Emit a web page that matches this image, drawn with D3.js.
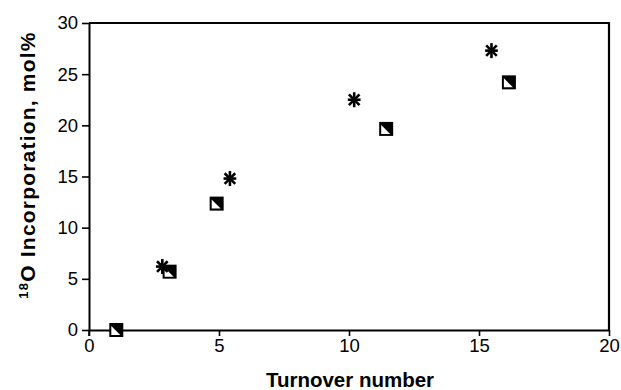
<!DOCTYPE html>
<html>
<head>
<meta charset="utf-8">
<script src="https://cdn.jsdelivr.net/npm/d3@7"></script>
<style>
  html, body { margin: 0; padding: 0; background: #fff; }
  svg { display: block; }
  text { font-family: "Liberation Sans", Arial, Helvetica, sans-serif; fill: #000; }
</style>
</head>
<body>
<svg id="chart" width="621" height="390"></svg>
<script>
// Series 1 (asterisks): turnover number vs 18O incorporation
const starX = [2.82, 5.42, 10.2, 15.48];
const starY = [6.2, 14.8, 22.5, 27.3];
// Series 2 (half-filled squares)
const squareX = [1.05, 3.1, 4.91, 11.43, 16.15];
const squareY = [0.0, 5.7, 12.35, 19.65, 24.2];

const xTicks = [0, 5, 10, 15, 20];
const yTicks = [0, 5, 10, 15, 20, 25, 30];

const svg = d3.select("#chart");
const plotLeft = 89, plotRight = 609, plotTop = 23, plotBottom = 330;

const x = d3.scaleLinear().domain([0, 20]).range([plotLeft, plotRight]);
const y = d3.scaleLinear().domain([0, 30]).range([plotBottom, plotTop]);

// Axes
const xAxis = d3.axisBottom(x).tickValues(xTicks).tickSize(6).tickPadding(3).tickSizeOuter(0);
const yAxis = d3.axisLeft(y).tickValues(yTicks).tickSize(7).tickPadding(4).tickSizeOuter(0);

const gx = svg.append("g").attr("transform", `translate(0,${plotBottom})`).call(xAxis);
const gy = svg.append("g").attr("transform", `translate(${plotLeft},0)`).call(yAxis);

[gx, gy].forEach(g => {
  g.select(".domain").attr("stroke", "#000").attr("stroke-width", 2);
  g.selectAll(".tick line").attr("stroke", "#000").attr("stroke-width", 1.6);
  g.selectAll(".tick text")
    .attr("font-family", "'Liberation Sans', Arial, sans-serif")
    .attr("font-size", 18.5)
    .attr("fill", "#000");
});
// short stub of the left axis below the origin
gy.append("line").attr("x1", 0).attr("x2", 0).attr("y1", y(0)).attr("y2", y(0) + 6)
  .attr("stroke", "#000").attr("stroke-width", 1.6);

// Top and right frame
svg.append("line").attr("x1", x(0)).attr("x2", x(20)).attr("y1", y(30)).attr("y2", y(30))
  .attr("stroke", "#000").attr("stroke-width", 2.2);
svg.append("line").attr("x1", x(20)).attr("x2", x(20)).attr("y1", y(30) - 1).attr("y2", y(0))
  .attr("stroke", "#000").attr("stroke-width", 2.2);

// Axis titles
svg.append("text")
  .attr("x", 350).attr("y", 387)
  .attr("text-anchor", "middle")
  .attr("font-weight", "bold").attr("font-size", 20.5)
  .text("Turnover number");

const yt = svg.append("text")
  .attr("transform", "translate(35,165) rotate(-90)")
  .attr("text-anchor", "middle")
  .attr("font-weight", "bold").attr("font-size", 21)
  .attr("letter-spacing", 1.2);
yt.append("tspan").attr("font-size", 13).attr("dy", -7).text("18");
yt.append("tspan").attr("dy", 7).text("O Incorporation, mol%");

// Half-filled squares: black square with white lower-left triangle
const sq = 7;
const squares = svg.append("g").selectAll("g").data(squareX.map((d, i) => [d, squareY[i]]))
  .join("g").attr("transform", d => `translate(${x(d[0])},${y(d[1])})`);
squares.append("rect").attr("x", -sq).attr("y", -sq).attr("width", 2 * sq).attr("height", 2 * sq).attr("fill", "#000");
squares.append("path")
  .attr("d", `M${-sq + 2},${-sq + 3} L${-sq + 2},${sq - 2} L${sq - 3},${sq - 2} Z`)
  .attr("fill", "#fff");

// Asterisks
const r = 7.5;
const stars = svg.append("g").selectAll("g").data(starX.map((d, i) => [d, starY[i]]))
  .join("g").attr("transform", d => `translate(${x(d[0])},${y(d[1])})`);
const spokes = [0, 45, 90, 135];
spokes.forEach(a => {
  const rad = a * Math.PI / 180;
  const len = a === 0 ? r * 0.85 : r;
  stars.append("line")
    .attr("x1", -len * Math.cos(rad)).attr("y1", -len * Math.sin(rad))
    .attr("x2", len * Math.cos(rad)).attr("y2", len * Math.sin(rad))
    .attr("stroke", "#000").attr("stroke-width", 2.6);
});
</script>
</body>
</html>
